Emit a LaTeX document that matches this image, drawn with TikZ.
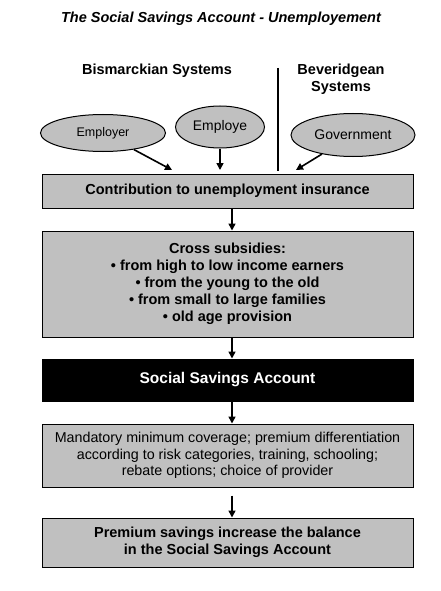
\documentclass[tikz,border=0pt]{standalone}
\usepackage{fontspec}
\setmainfont{Liberation Sans}
\usepackage{tikz}
\usetikzlibrary{arrows.meta,shapes.geometric}
\definecolor{boxgray}{RGB}{192,192,192}
\newcommand{\bigfont}{\fontsize{14.5}{17}\selectfont}

\begin{document}
\begin{tikzpicture}[x=1pt,y=-1pt,
  box/.style={draw,line width=1pt,fill=boxgray,minimum width=371pt,align=center,font=\bigfont\bfseries},
  oval/.style={ellipse,draw,line width=1pt,fill=boxgray,inner sep=0pt},
  arr/.style={line width=1.6pt,-{Triangle[length=7pt,width=7pt]}}]
  \useasboundingbox (0,0) rectangle (441,591);
  % headings
  \node[font=\bigfont\bfseries\itshape] (title) at (221,19) {The Social Savings Account - Unemployement};
  \node[font=\bigfont\bfseries] (bism) at (157,71) {Bismarckian Systems};
  \node[font=\bigfont\bfseries,align=center] (bev) at (341,79.5) {Beveridgean\\Systems};
  \draw[line width=1.5pt] (278,68) -- (278,171);
  % payers
  \node[oval,minimum width=125pt,minimum height=37pt,font=\fontsize{12.5}{14}\selectfont] (employer) at (103,133) {Employer};
  \node[oval,minimum width=89pt,minimum height=42pt,font=\fontsize{13.9}{16}\selectfont] (employe) at (220,127) {Employe};
  \node[oval,minimum width=124pt,minimum height=43pt,font=\fontsize{14}{16}\selectfont] (gov) at (353,135) {Government};
  \coordinate (in1) at (172,170);
  \coordinate (in2) at (220,170);
  \coordinate (in3) at (296,170);
  \draw[arr] (employer) -- (in1);
  \draw[arr] (employe) -- (in2);
  \draw[arr] (gov) -- (in3);
  % flow boxes
  \node[box,minimum height=34pt] (contrib) at (227.5,191) {Contribution to unemployment insurance};
  \node[box,minimum height=106pt] (cross) at (227.5,284) {Cross subsidies:\\
    • from high to low income earners\\
    • from the young to the old\\
    • from small to large families\\
    • old age provision};
  \node[box,fill=black,text=white,minimum height=42pt,font=\fontsize{15.5}{18}\selectfont\bfseries] (ssa) at (227.5,380) {Social Savings Account};
  \node[box,minimum height=63pt,font=\fontsize{14.3}{16.5}\selectfont] (rules) at (227.5,455.5) {Mandatory minimum coverage; premium differentiation\\
    according to risk categories, training, schooling;\\
    rebate options; choice of provider};
  \node[box,minimum height=49pt] (balance) at (227.5,542.5) {Premium savings increase the balance\\
    in the Social Savings Account};
  \draw[arr] ([xshift=4.5pt]contrib.south) -- ([xshift=4.5pt]cross.north);
  \draw[arr] ([xshift=4.5pt]cross.south) -- ([xshift=4.5pt]ssa.north);
  \draw[arr] ([xshift=4.5pt]ssa.south) -- ([xshift=4.5pt]rules.north);
  \draw[arr,shorten <=8pt] ([xshift=4.5pt]rules.south) -- ([xshift=4.5pt]balance.north);
\end{tikzpicture}
\end{document}
